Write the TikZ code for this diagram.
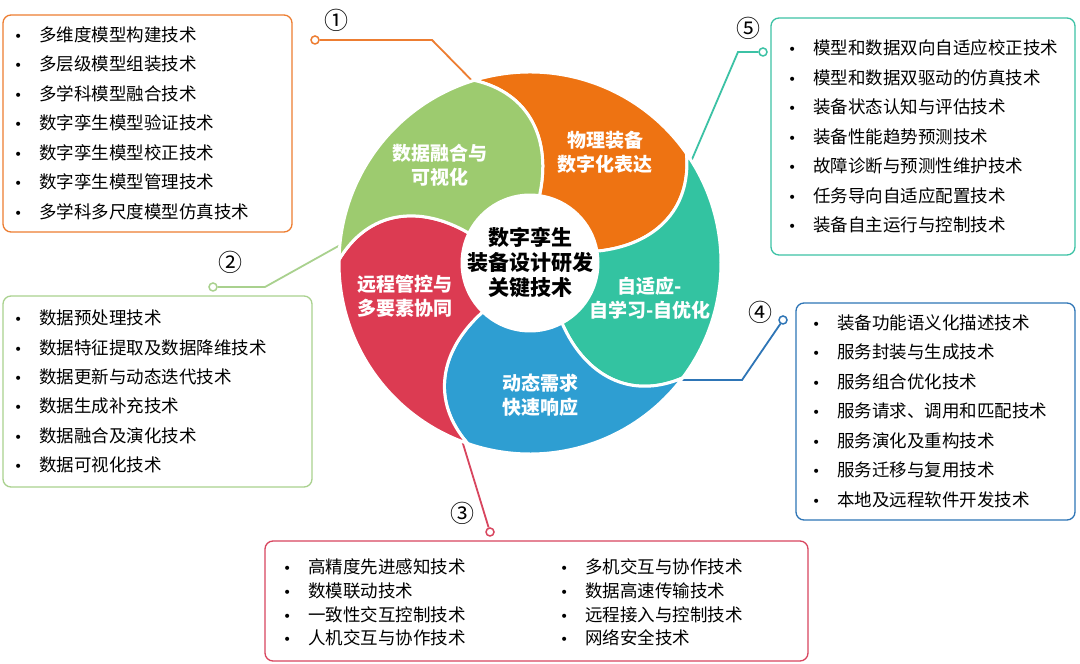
\documentclass[tikz,border=0pt]{standalone}
\usepackage{fontspec}
\setmainfont{Noto Sans CJK SC}
\newfontfamily\symf{DejaVu Sans}
\begin{document}
\begin{tikzpicture}[x=1pt,y=1pt,
  box/.style={draw=#1,line width=1.3pt,rounded corners=8pt,fill=white},
  item/.style={anchor=west,inner sep=0pt,font=\fontsize{17.5}{20}\selectfont},
  plab/.style={white,align=center,font=\fontsize{19}{24}\bfseries\selectfont},
  num/.style={font=\fontsize{24}{26}\selectfont},
  dotc/.style={circle,draw=#1,fill=white,line width=1.5pt,minimum size=8pt,inner sep=0pt},
  conn/.style={draw=#1,line width=1.8pt}]
\definecolor{cOr}{HTML}{EE7312}
\definecolor{cGr}{HTML}{9DCB6F}
\definecolor{cTe}{HTML}{33C3A1}
\definecolor{cBl}{HTML}{2E9ED2}
\definecolor{cRe}{HTML}{DC3B52}
\definecolor{bOr}{HTML}{ED7D31}
\definecolor{bGr}{HTML}{A9D18E}
\definecolor{bRe}{HTML}{D8455E}
\definecolor{bBl}{HTML}{2E75B6}
\definecolor{bTe}{HTML}{3CC2A5}
\newcommand{\bul}{{\symf\fontsize{14}{14}\selectfont •}\hspace{17pt}}
\useasboundingbox (0,0) rectangle (1080,664);
\fill[white] (0,0) rectangle (1080,664);
% connectors (behind the wheel)
\node[dotc=bOr] (d1) at (315,624) {};
\node[dotc=bGr] (d2) at (213,377) {};
\node[dotc=bRe] (d3) at (490,132) {};
\node[dotc=bBl] (d4) at (783,344) {};
\node[dotc=bTe] (d5) at (763,612) {};
\coordinate (k1) at (432,624); \coordinate (e1) at (495,560);
\coordinate (k2) at (265,377); \coordinate (e2) at (360,430);
\coordinate (e3) at (460,230);
\coordinate (k4) at (742,284); \coordinate (e4) at (650,284);
\coordinate (k5) at (738,612); \coordinate (e5) at (690,500);
\draw[conn=bOr] (d1) -- (k1) -- (e1);
\draw[conn=bGr] (d2) -- (k2) -- (e2);
\draw[conn=bRe] (d3) -- (e3);
\draw[conn=bBl] (d4) -- (k4) -- (e4);
\draw[conn=bTe] (d5) -- (k5) -- (e5);
% wheel
\begin{scope}[shift={(530,401)}]
\foreach \s/\c in {10/cOr,-62/cTe,-134/cBl,154/cRe,82/cGr}{
  \pgfmathsetmacro{\e}{\s+72}
  \fill[\c,draw=white,line width=3pt] (\s:68) .. controls (\s-2:125) and (\s+8:170) .. (\s+25:191)
     arc[start angle=\s+25,end angle=\e+25,radius=191]
     .. controls (\e+8:170) and (\e-2:125) .. (\e:68)
     arc[start angle=\e,end angle=\s,radius=68] -- cycle;
}
\fill[white] (0,0) circle (67);
\end{scope}
\node[align=center,font=\fontsize{21}{25}\bfseries\selectfont] (ctr) at (530,401) {数字孪生\\装备设计研发\\关键技术};
\node[plab] (p1) at (605,512) {物理装备\\数字化表达};
\node[plab] (p2) at (440,499) {数据融合与\\可视化};
\node[plab] (p3) at (405,368) {远程管控与\\多要素协同};
\node[plab] (p4) at (540,269) {动态需求\\快速响应};
\node[plab] (p5) at (650,366) {自适应-\\自学习-自优化};
% boxes
\draw[box=bOr] (3,432) rectangle (292,649);
\draw[box=bGr] (3,177) rectangle (312,368);
\draw[box=bRe] (265,3) rectangle (808,123);
\draw[box=bBl] (796,144) rectangle (1075,361);
\draw[box=bTe] (771,409) rectangle (1075,646);
\node[num] (n1) at (336,644) {①};
\node[num] (n2) at (230,402) {②};
\node[num] (n3) at (462,151) {③};
\node[num] (n4) at (760,352) {④};
\node[num] (n5) at (748,636) {⑤};
% box 1
\foreach \t [count=\i] in {多维度模型构建技术,多层级模型组装技术,多学科模型融合技术,数字孪生模型验证技术,数字孪生模型校正技术,数字孪生模型管理技术,多学科多尺度模型仿真技术}{
  \node[item] (a\i) at (14,664-35-29.4*\i+29.4) {\bul\t};}
% box 2
\foreach \t [count=\i] in {数据预处理技术,数据特征提取及数据降维技术,数据更新与动态迭代技术,数据生成补充技术,数据融合及演化技术,数据可视化技术}{
  \node[item] (b\i) at (14,664-318-29.4*\i+29.4) {\bul\t};}
% box 3
\foreach \t [count=\i] in {高精度先进感知技术,数模联动技术,一致性交互控制技术,人机交互与协作技术}{
  \node[item] (c\i) at (283,664-567-23.7*\i+23.7) {\bul\t};}
\foreach \t [count=\i] in {多机交互与协作技术,数据高速传输技术,远程接入与控制技术,网络安全技术}{
  \node[item] (cc\i) at (560,664-567-23.7*\i+23.7) {\bul\t};}
% box 4
\foreach \t [count=\i] in {装备功能语义化描述技术,服务封装与生成技术,服务组合优化技术,服务请求、调用和匹配技术,服务演化及重构技术,服务迁移与复用技术,本地及远程软件开发技术}{
  \node[item] (d\i) at (812,664-323-29.4*\i+29.4) {\bul\t};}
% box 5
\foreach \t [count=\i] in {模型和数据双向自适应校正技术,模型和数据双驱动的仿真技术,装备状态认知与评估技术,装备性能趋势预测技术,故障诊断与预测性维护技术,任务导向自适应配置技术,装备自主运行与控制技术}{
  \node[item] (f\i) at (788,664-48-29.5*\i+29.5) {\bul\t};}
\end{tikzpicture}
\end{document}
